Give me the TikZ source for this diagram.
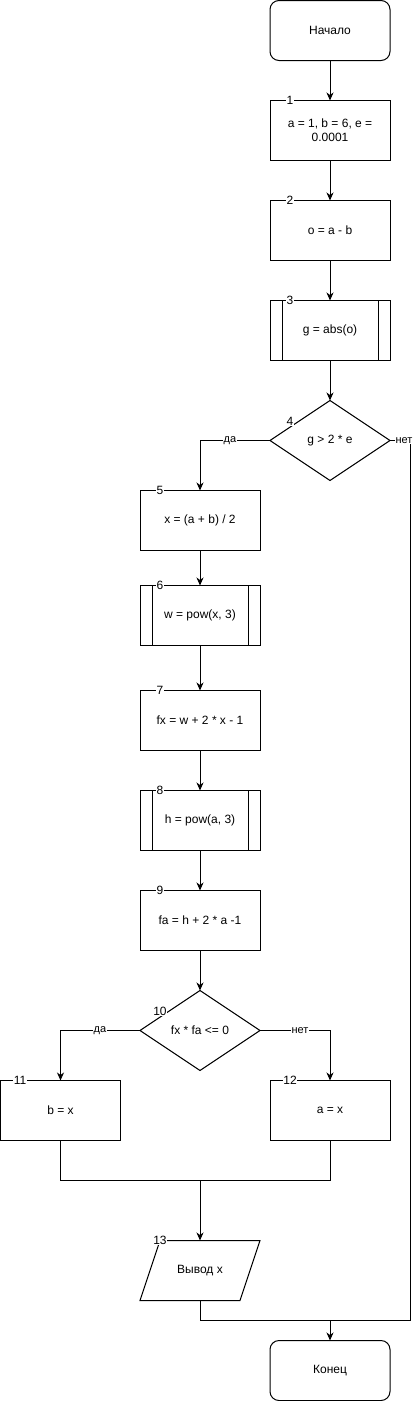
\documentclass[tikz,border=0pt]{standalone}
\usepackage{fontspec}
\setmainfont{Liberation Sans}
\usetikzlibrary{arrows.meta,shapes.geometric}
\begin{document}
\begin{tikzpicture}[x=1pt,y=-1pt,line width=1pt,
  every node/.style={font=\fontsize{12}{14}\selectfont},
  proc/.style={draw,rectangle,minimum width=120pt,minimum height=60pt,inner sep=0pt,outer sep=0pt,align=center},
  term/.style={proc,rounded corners=9pt},
  dec/.style={draw,diamond,minimum width=120pt,minimum height=80pt,inner sep=0pt,outer sep=0pt,aspect=1.5},
  io/.style={rectangle,minimum width=100pt,minimum height=60pt,inner sep=0pt,outer sep=0pt},
  num/.style={fill=white,inner sep=0.5pt,font=\fontsize{12}{14}\selectfont},
  lbl/.style={fill=white,inner sep=0.5pt,font=\fontsize{11}{13}\selectfont},
  arr/.style={-{Stealth[length=8pt,width=7pt,inset=2.5pt]}}]
\useasboundingbox (0,0) rectangle (419,1401);
% nodes
\node[term] (start) at (330,30.5) {Начало};
\node[proc] (n1) at (330,130.5) {a = 1, b = 6, e =\\0.0001};
\node[proc] (n2) at (330,230.5) {o = a - b};
\node[proc] (n3) at (330,330.5) {g = abs(o)};
\node[dec] (n4) at (330,440.5) {g > 2 * e};
\node[proc] (n5) at (200,520.5) {x = (a + b) / 2};
\node[proc] (n6) at (200,615.5) {w = pow(x, 3)};
\node[proc] (n7) at (200,720.5) {fx = w + 2 * x - 1};
\node[proc] (n8) at (200,820.5) {h = pow(a, 3)};
\node[proc] (n9) at (200,920.5) {fa = h + 2 * a -1};
\node[dec] (n10) at (200,1030.5) {fx * fa <= 0};
\node[proc] (n11) at (60.5,1110.5) {b = x};
\node[proc] (n12) at (330,1110.5) {a = x};
\node[io] (n13) at (200,1270.5) {Вывод x};
\node[term] (nend) at (330,1370.5) {Конец};
% subroutine side bars
\foreach \n in {n3,n6,n8}{
  \draw ([xshift=12pt]\n.north west) -- ([xshift=12pt]\n.south west);
  \draw ([xshift=-12pt]\n.north east) -- ([xshift=-12pt]\n.south east);
}
% parallelogram
\draw ([xshift=10pt]n13.north west) -- ([xshift=10pt]n13.north east) -- ([xshift=-10pt]n13.south east) -- ([xshift=-10pt]n13.south west) -- cycle;
% junctions
\coordinate (jm) at (200,1180.5);
\coordinate (jr) at (410.5,1320.5);
\coordinate (je) at (330,1320.5);
% connectors
\draw[arr] (start) -- (n1);
\draw[arr] (n1) -- (n2);
\draw[arr] (n2) -- (n3);
\draw[arr] (n3) -- (n4);
\draw[arr] (n4.west) -| (n5.north);
\draw (n4.east) -| (jr) -- (je);
\draw[arr] (n5) -- (n6);
\draw[arr] (n6) -- (n7);
\draw[arr] (n7) -- (n8);
\draw[arr] (n8) -- (n9);
\draw[arr] (n9) -- (n10);
\draw[arr] (n10.west) -| (n11.north);
\draw[arr] (n10.east) -| (n12.north);
\draw (n11.south) |- (jm) -| (n12.south);
\draw[arr] (jm) -- (n13.north);
\draw (n13.south) |- (je);
\draw[arr] (je) -- (nend);
% branch labels
\node[lbl] (l4y) at (230,440.5) {да};
\node[lbl] (l4n) at (404,440.5) {нет};
\node[lbl] (l10y) at (100,1030.5) {да};
\node[lbl] (l10n) at (300,1030.5) {нет};
% block numbers
\node[num] (k1) at (290,100.5) {1};
\node[num] (k2) at (290,200.5) {2};
\node[num] (k3) at (290,300.5) {3};
\node[num] (k4) at (290,421) {4};
\node[num] (k5) at (160,490.5) {5};
\node[num] (k6) at (160,585.5) {6};
\node[num] (k7) at (160,690.5) {7};
\node[num] (k8) at (160,790.5) {8};
\node[num] (k9) at (160,890.5) {9};
\node[num] (k10) at (160,1011) {10};
\node[num] (k11) at (20,1080.5) {11};
\node[num] (k12) at (290,1080.5) {12};
\node[num] (k13) at (160,1240.5) {13};
\end{tikzpicture}
\end{document}
